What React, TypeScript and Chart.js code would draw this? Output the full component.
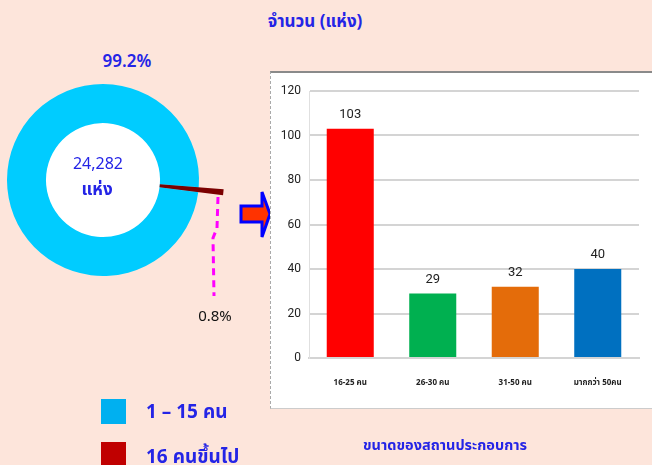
import React, { useEffect, useRef } from "react";
import { Chart, registerables } from "chart.js";

Chart.register(...registerables);

// ---- data ----
const pieLabels = ["16 คนขึ้นไป", "1 – 15 คน"];
const pieValues = [0.8, 99.2];
const pieColors = ["#7B0000", "#00CCFF"];
const legendColors = ["#00B0F0", "#C00000"];
const legendLabels = ["1 – 15 คน", "16 คนขึ้นไป"];
const totalText = "24,282";
const unitText = "แห่ง";

const barCategories = ["16-25 คน", "26-30 คน", "31-50 คน", "มากกว่า 50คน"];
const barValues = [103, 29, 32, 40];
const barColors = ["#FF0000", "#00B050", "#E46C0A", "#0070C0"];
const yTicks = [0, 20, 40, 60, 80, 100, 120];

const titleText = "จำนวน (แห่ง)";
const captionText = "ขนาดของสถานประกอบการ";

const THAI = "Tahoma, 'Noto Sans Thai', 'Loma', 'Garuda', 'DejaVu Sans', sans-serif";
const NARROW = "'Liberation Sans Narrow', 'Roboto', sans-serif";
const BLUE = "#2424E6";

const valueLabelPlugin = {
  id: "valueLabels",
  afterDatasetsDraw(chart: any) {
    const ctx = chart.ctx;
    const meta = chart.getDatasetMeta(0);
    ctx.save();
    ctx.font = `13px ${NARROW}`;
    ctx.fillStyle = "#222";
    ctx.textAlign = "center";
    ctx.textBaseline = "middle";
    meta.data.forEach((el: any, i: number) => {
      ctx.fillText(String(chart.data.datasets[0].data[i]), el.x, el.y - 14);
    });
    ctx.restore();
  },
};

const holePlugin = {
  id: "whiteHole",
  beforeDatasetsDraw(chart: any) {
    const el = chart.getDatasetMeta(0).data[0];
    if (!el) return;
    const ctx = chart.ctx;
    ctx.save();
    ctx.fillStyle = "#FFFFFF";
    ctx.beginPath();
    ctx.arc(el.x, el.y, el.innerRadius + 0.5, 0, Math.PI * 2);
    ctx.fill();
    ctx.restore();
  },
};

export default function App() {
  const ringRef = useRef<HTMLCanvasElement>(null);
  const sliceRef = useRef<HTMLCanvasElement>(null);
  const barRef = useRef<HTMLCanvasElement>(null);

  useEffect(() => {
    const common = {
      animation: false as const,
      responsive: false,
      events: [] as any[],
      rotation: 94.4,
      plugins: { legend: { display: false }, tooltip: { enabled: false } },
      layout: { padding: 0 },
    };
    const ring = new Chart(ringRef.current!, {
      type: "doughnut",
      data: {
        labels: pieLabels,
        datasets: [{ data: pieValues, backgroundColor: [pieColors[1], pieColors[1]], borderWidth: 0 }],
      },
      options: { ...common, radius: 96, cutout: "59.4%" } as any,
      plugins: [holePlugin],
    });
    const slice = new Chart(sliceRef.current!, {
      type: "doughnut",
      data: {
        labels: pieLabels,
        datasets: [{ data: pieValues, backgroundColor: [pieColors[0], "rgba(0,0,0,0)"], borderWidth: 0 }],
      },
      options: { ...common, radius: 121, cutout: "47.1%" } as any,
    });
    const bar = new Chart(barRef.current!, {
      type: "bar",
      data: {
        labels: barCategories,
        datasets: [
          {
            data: barValues,
            backgroundColor: barColors,
            borderWidth: 0,
            categoryPercentage: 1,
            barPercentage: 0.57,
          },
        ],
      },
      options: {
        animation: false,
        responsive: false,
        events: [],
        layout: { padding: { left: 0, right: 13, top: 19, bottom: 0 } },
        plugins: { legend: { display: false }, tooltip: { enabled: false } },
        scales: {
          x: {
            grid: { display: false, drawTicks: false },
            border: { display: true, color: "#d4d4d4", width: 2 },
            ticks: { padding: 21, color: "#222", font: { family: THAI, size: 8, weight: "bold" } },
            afterFit: (s: any) => {
              s.height = 51;
            },
          },
          y: {
            min: 0,
            max: 120,
            afterBuildTicks: (s: any) => {
              s.ticks = yTicks.map((v) => ({ value: v }));
            },
            grid: { color: "#d4d4d4", lineWidth: 2, drawTicks: false },
            border: { display: true, color: "#e0e0e0", width: 1 },
            ticks: { padding: 8, color: "#222", font: { family: NARROW, size: 12 } },
            afterFit: (s: any) => {
              s.width = 39;
            },
          },
        },
      } as any,
      plugins: [valueLabelPlugin],
    });
    return () => {
      ring.destroy();
      slice.destroy();
      bar.destroy();
    };
  }, []);

  const txt = (extra: React.CSSProperties): React.CSSProperties => ({
    position: "absolute",
    whiteSpace: "nowrap",
    lineHeight: 1,
    fontFamily: THAI,
    color: BLUE,
    ...extra,
  });

  return (
    <div
      style={{
        position: "absolute",
        left: 0,
        top: 0,
        width: 652,
        height: 465,
        background: "#FDE5DB",
        overflow: "hidden",
      }}
    >
      <div style={txt({ left: 315, top: 22, transform: "translate(-50%,-50%)", fontSize: 17, fontWeight: "bold" })}>
        {titleText}
      </div>
      <div style={txt({ left: 127, top: 62, transform: "translate(-50%,-50%)", fontSize: 17, fontWeight: 600 })}>
        {pieValues[1]}%
      </div>

      <canvas ref={ringRef} width={260} height={260} style={{ position: "absolute", left: -27, top: 50 }} />
      <canvas ref={sliceRef} width={260} height={260} style={{ position: "absolute", left: -27, top: 50 }} />

      <div style={txt({ left: 98, top: 164, transform: "translate(-50%,-50%)", fontSize: 16 })}>{totalText}</div>
      <div style={txt({ left: 97, top: 190, transform: "translate(-50%,-50%)", fontSize: 17, fontWeight: "bold" })}>
        {unitText}
      </div>

      <svg width={652} height={465} style={{ position: "absolute", left: 0, top: 0 }}>
        <polyline
          points="218,197 217,228 213,238 214,296"
          fill="none"
          stroke="#FF00FF"
          strokeWidth={3}
          strokeDasharray="7,5"
        />
        <polygon
          points="241,206 262,206 262,192 270,214 262,237 262,222 241,222"
          fill="#FF3300"
          stroke="#0000FF"
          strokeWidth={3}
          strokeLinejoin="miter"
        />
      </svg>

      <div style={txt({ left: 215, top: 316, transform: "translate(-50%,-50%)", fontSize: 15, color: "#111" })}>
        {pieValues[0]}%
      </div>

      <div
        style={{
          position: "absolute",
          left: 270,
          top: 71,
          width: 382,
          height: 338,
          background: "#fff",
          borderTop: "2px solid #8a8a8a",
          borderLeft: "1px dashed #aaa",
          borderBottom: "1px solid #ccc",
          boxSizing: "border-box",
        }}
      />
      <canvas ref={barRef} width={382} height={337} style={{ position: "absolute", left: 270, top: 72 }} />

      <div style={{ position: "absolute", left: 101, top: 399, width: 25, height: 25, background: legendColors[0] }} />
      <div style={txt({ left: 146, top: 412, transform: "translateY(-50%)", fontSize: 19, fontWeight: "bold" })}>
        {legendLabels[0]}
      </div>
      <div style={{ position: "absolute", left: 101, top: 442, width: 25, height: 25, background: legendColors[1] }} />
      <div style={txt({ left: 146, top: 457, transform: "translateY(-50%)", fontSize: 19, fontWeight: "bold" })}>
        {legendLabels[1]}
      </div>

      <div style={txt({ left: 445, top: 446, transform: "translate(-50%,-50%)", fontSize: 14.5, fontWeight: "bold" })}>
        {captionText}
      </div>
    </div>
  );
}
